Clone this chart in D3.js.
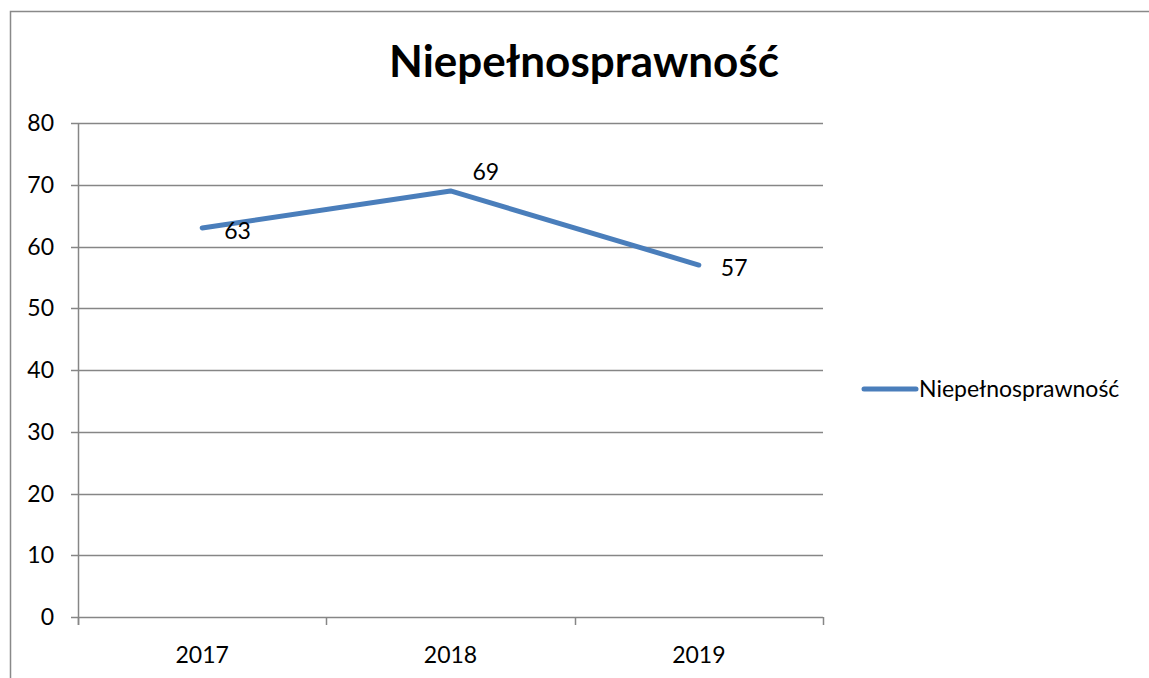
<!DOCTYPE html>
<html>
<head>
<meta charset="utf-8">
<script src="https://cdn.jsdelivr.net/npm/d3@7"></script>
<style>
  body { margin: 0; background: #fff; }
  text { font-family: Lato, "Open Sans", sans-serif; fill: #000; }
</style>
</head>
<body>
<script>
var width = 1149;
var height = 678;

// chart data
var years = ["2017", "2018", "2019"];
var values = [63, 69, 57];
var seriesName = "Niepełnosprawność";
var yTicks = [0, 10, 20, 30, 40, 50, 60, 70, 80];

// data label nudges (Excel put them right of the points)
var labelDy = [3, -19, 3];

var svg = d3.select("body").append("svg")
  .attr("width", width)
  .attr("height", height);

// outer chart frame
svg.append("rect")
  .attr("x", 10.5).attr("y", 11.5)
  .attr("width", 1150).attr("height", 700)
  .attr("fill", "none")
  .attr("stroke", "#898989")
  .attr("stroke-width", 1.5);

var plot = {left: 78, right: 823, top: 123, bottom: 617};

var x = d3.scaleBand().domain(years).range([plot.left, plot.right]);
var y = d3.scaleLinear().domain([0, 80]).range([plot.bottom, plot.top]);

// gridlines
svg.append("g")
  .selectAll("line")
  .data(yTicks)
  .enter().append("line")
  .attr("x1", plot.left - 7).attr("x2", plot.right)
  .attr("y1", function (d) { return Math.round(y(d)) + 0.5; })
  .attr("y2", function (d) { return Math.round(y(d)) + 0.5; })
  .attr("stroke", "#868686")
  .attr("stroke-width", 1.5);

// y axis line
svg.append("line")
  .attr("x1", plot.left + 0.5).attr("x2", plot.left + 0.5)
  .attr("y1", plot.top).attr("y2", plot.bottom + 8)
  .attr("stroke", "#868686").attr("stroke-width", 1.5);

// y tick labels
svg.append("g")
  .selectAll("text")
  .data(yTicks)
  .enter().append("text")
  .attr("x", 54)
  .attr("y", function (d) { return y(d); })
  .attr("dy", "0.35em")
  .attr("text-anchor", "end")
  .style("font-size", "23px")
  .text(function (d) { return d; });

// x category ticks (band edges)
var edges = years.map(function (d) { return x(d); }).concat([plot.right]);
svg.append("g")
  .selectAll("line")
  .data(edges)
  .enter().append("line")
  .attr("x1", function (d) { return Math.round(d) + 0.5; })
  .attr("x2", function (d) { return Math.round(d) + 0.5; })
  .attr("y1", plot.bottom).attr("y2", plot.bottom + 8)
  .attr("stroke", "#868686").attr("stroke-width", 1.5);

// x labels
svg.append("g")
  .selectAll("text")
  .data(years)
  .enter().append("text")
  .attr("x", function (d) { return x(d) + x.bandwidth() / 2; })
  .attr("y", 655)
  .attr("dy", "0.35em")
  .attr("text-anchor", "middle")
  .style("font-size", "23px")
  .text(function (d) { return d; });

// the line
var line = d3.line()
  .x(function (d, i) { return x(years[i]) + x.bandwidth() / 2; })
  .y(function (d) { return y(d); });

svg.append("path")
  .datum(values)
  .attr("d", line)
  .attr("fill", "none")
  .attr("stroke", "#4a7ebb")
  .attr("stroke-width", 5)
  .attr("stroke-linecap", "round")
  .attr("stroke-linejoin", "round");

// data labels
svg.append("g")
  .selectAll("text")
  .data(values)
  .enter().append("text")
  .attr("x", function (d, i) { return x(years[i]) + x.bandwidth() / 2 + 22; })
  .attr("y", function (d, i) { return y(d) + labelDy[i]; })
  .attr("dy", "0.35em")
  .style("font-size", "23px")
  .text(function (d) { return d; });

// title
svg.append("text")
  .attr("x", 584)
  .attr("y", 62)
  .attr("dy", "0.35em")
  .attr("text-anchor", "middle")
  .style("font-size", "44px")
  .style("font-weight", "bold")
  .text(seriesName);

// legend
var legend = svg.append("g").attr("transform", "translate(864,389)");
legend.append("line")
  .attr("x1", 0).attr("x2", 52)
  .attr("stroke", "#4a7ebb")
  .attr("stroke-width", 5)
  .attr("stroke-linecap", "round");
legend.append("text")
  .attr("x", 55)
  .attr("dy", "0.35em")
  .style("font-size", "23px")
  .text(seriesName);
</script>
</body>
</html>
